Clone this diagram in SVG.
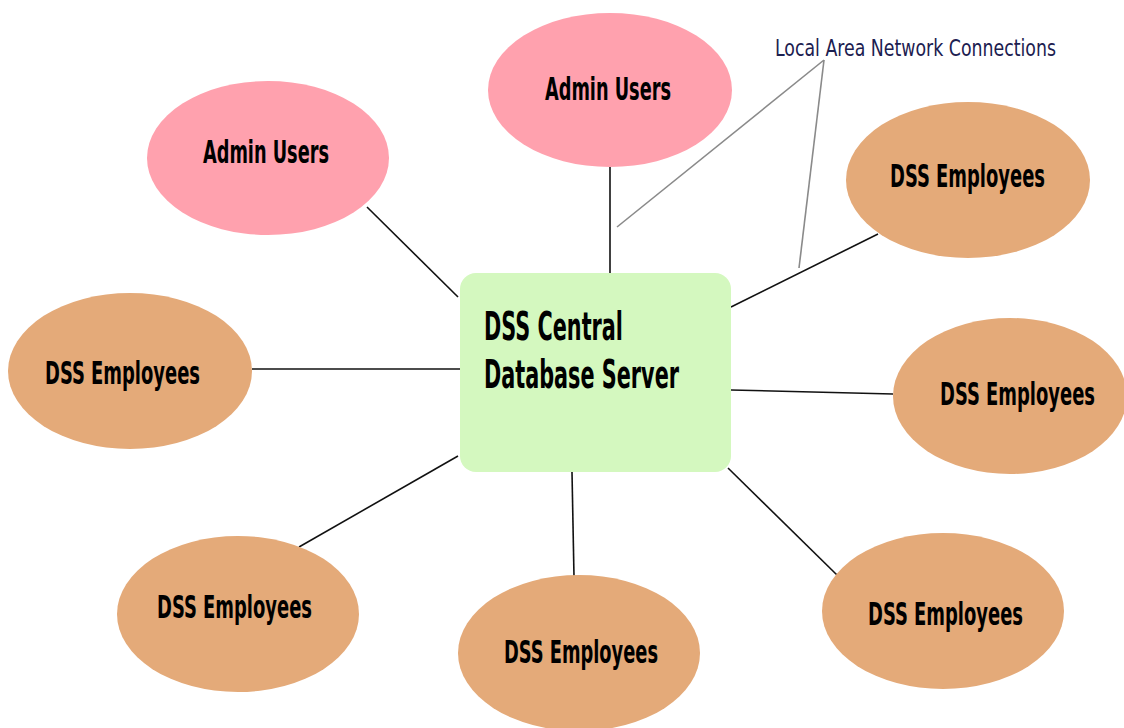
<svg xmlns="http://www.w3.org/2000/svg" width="1124" height="728" viewBox="0 0 1124 728">
<style>
.admin{fill:#ffa1ae}
.emp{fill:#e4aa79}
.server{fill:#d4f8bf}
.lbl{font-family:"Liberation Sans Narrow","DejaVu Sans Condensed","Liberation Sans",sans-serif;font-weight:bold;fill:#000;font-size:18px}
.big{font-size:22px}
.note{font-family:"Liberation Sans Narrow","DejaVu Sans Condensed","Liberation Sans",sans-serif;font-size:17px;fill:#1c2050}
.conn line{stroke:#111;stroke-width:1.6}
.ann line{stroke:#8a8a8a;stroke-width:1.6}
</style>
<rect width="1124" height="728" fill="#fff"/>
<g class="conn" id="connectors">
<line x1="367" y1="207" x2="458" y2="297"/>
<line x1="610" y1="165" x2="610" y2="273"/>
<line x1="878" y1="234" x2="731" y2="307"/>
<line x1="252" y1="369" x2="460" y2="369"/>
<line x1="731" y1="390" x2="893" y2="394"/>
<line x1="458" y1="456" x2="299" y2="547"/>
<line x1="572" y1="472" x2="574" y2="577"/>
<line x1="728" y1="468" x2="837" y2="575"/>
</g>
<g class="ann" id="annotation-lines">
<line x1="824" y1="60" x2="617" y2="227"/>
<line x1="824" y1="60" x2="799" y2="268"/>
</g>
<g id="server">
<rect class="server" x="460" y="273" width="271" height="199" rx="16"/>
<text class="lbl big" transform="translate(484,340) scale(1,1.75)" textLength="139" lengthAdjust="spacingAndGlyphs">DSS Central</text>
<text class="lbl big" transform="translate(484,388) scale(1,1.75)" textLength="195" lengthAdjust="spacingAndGlyphs">Database Server</text>
</g>
<g id="admin-left">
<ellipse class="admin" cx="268" cy="158" rx="121" ry="77"/>
<text class="lbl" transform="translate(203,163) scale(1,1.75)" textLength="126" lengthAdjust="spacingAndGlyphs">Admin Users</text>
</g>
<g id="admin-top">
<ellipse class="admin" cx="610" cy="90" rx="122" ry="77"/>
<text class="lbl" transform="translate(545,100) scale(1,1.75)" textLength="126" lengthAdjust="spacingAndGlyphs">Admin Users</text>
</g>
<g id="emp-top-right">
<ellipse class="emp" cx="968" cy="180" rx="122" ry="78"/>
<text class="lbl" transform="translate(890,187) scale(1,1.75)" textLength="155" lengthAdjust="spacingAndGlyphs">DSS Employees</text>
</g>
<g id="emp-left">
<ellipse class="emp" cx="130" cy="371" rx="122" ry="78"/>
<text class="lbl" transform="translate(45,384) scale(1,1.75)" textLength="155" lengthAdjust="spacingAndGlyphs">DSS Employees</text>
</g>
<g id="emp-right">
<ellipse class="emp" cx="1010" cy="396" rx="117" ry="78"/>
<text class="lbl" transform="translate(940,405) scale(1,1.75)" textLength="155" lengthAdjust="spacingAndGlyphs">DSS Employees</text>
</g>
<g id="emp-bottom-left">
<ellipse class="emp" cx="238" cy="614" rx="121" ry="78"/>
<text class="lbl" transform="translate(157,618) scale(1,1.75)" textLength="155" lengthAdjust="spacingAndGlyphs">DSS Employees</text>
</g>
<g id="emp-bottom-middle">
<ellipse class="emp" cx="579" cy="653" rx="121" ry="78"/>
<text class="lbl" transform="translate(504,663) scale(1,1.75)" textLength="154" lengthAdjust="spacingAndGlyphs">DSS Employees</text>
</g>
<g id="emp-bottom-right">
<ellipse class="emp" cx="943" cy="611" rx="121" ry="78"/>
<text class="lbl" transform="translate(868,625) scale(1,1.75)" textLength="155" lengthAdjust="spacingAndGlyphs">DSS Employees</text>
</g>
<g id="label-lan">
<text class="note" transform="translate(775,56) scale(1,1.4)" textLength="281" lengthAdjust="spacingAndGlyphs">Local Area Network Connections</text>
</g>
</svg>
